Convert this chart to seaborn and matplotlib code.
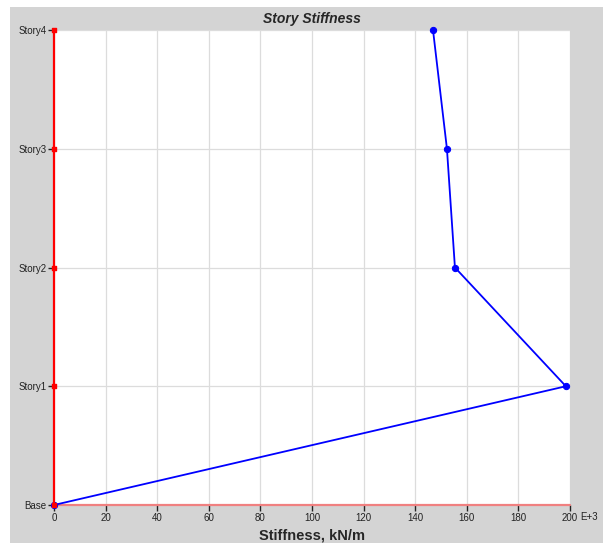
import matplotlib
matplotlib.use("Agg")
import matplotlib.pyplot as plt
import seaborn as sns
import pandas as pd
from matplotlib.patches import Rectangle

stories = ["Base", "Story1", "Story2", "Story3", "Story4"]
levels = [0, 1, 2, 3, 4]
stiffness = [0, 198.4, 155.4, 152.3, 146.9]
xticks = [0, 20, 40, 60, 80, 100, 120, 140, 160, 180, 200]

sns.set_style("white")
plt.rcParams["font.family"] = ["Liberation Sans", "DejaVu Sans"]
plt.rcParams["xtick.bottom"] = True
plt.rcParams["ytick.left"] = True

df = pd.DataFrame({"story": stories, "level": levels, "stiffness": stiffness})

fig = plt.figure(figsize=(6.03, 5.43), dpi=100)
fig.patch.set_facecolor("white")
bg = Rectangle((10 / 603, 0), 1 - 10 / 603, (543 - 7) / 543,
               transform=fig.transFigure, facecolor="#d4d4d4",
               edgecolor="none", zorder=-10)
fig.patches.append(bg)
ax = fig.add_axes([54 / 603, 38 / 543, 516 / 603, 475 / 543])
ax.set_zorder(1)
ax.set_facecolor("white")

sns.lineplot(data=df, x="stiffness", y="level", sort=False, estimator=None,
             color="blue", lw=1.3, marker="o", markersize=4.5,
             markeredgecolor="blue", ax=ax, zorder=5, clip_on=False)

# reference axis lines
ax.plot([0, 0], [0, 4], color="red", lw=1.6, zorder=6, clip_on=False)
ax.plot([0, 200], [0, 0], color="#f08080", lw=1.6, zorder=2, clip_on=False)
ax.scatter([0] * len(levels), levels, marker="s", s=11, color="red", zorder=7, clip_on=False)

ax.set_xlim(0, 200)
ax.set_ylim(0, 4)
ax.set_xticks(xticks)
ax.set_xticklabels([str(v) for v in xticks])
ax.set_yticks(levels)
ax.set_yticklabels(stories)
ax.grid(True, color="#dcdcdc", lw=0.9)
ax.set_axisbelow(True)
for s in ax.spines.values():
    s.set_visible(False)
ax.tick_params(axis="both", which="major", labelsize=7, length=4, width=1.0, color="#222222",
               labelcolor="#222222", direction="out", bottom=True, left=True, pad=1.5)

ax.set_xlabel("Stiffness, kN/m", fontsize=10.5, fontweight="bold", labelpad=4)
ax.set_ylabel("")
ax.set_title("Story Stiffness", fontsize=10, fontweight="bold", style="italic", pad=5)
fig.text(580 / 603, 1 - 517 / 543, "E+3", fontsize=7, color="#222222", va="center", ha="left")

fig.savefig("out.png", dpi=100)
